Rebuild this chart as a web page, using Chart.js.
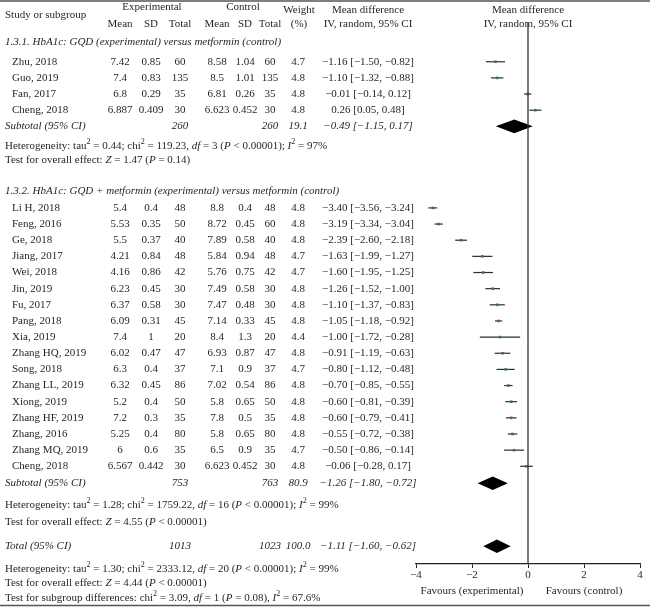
<!DOCTYPE html>
<html>
<head>
<meta charset="utf-8">
<script src="https://cdn.jsdelivr.net/npm/chart.js@4.4.1/dist/chart.umd.min.js"></script>
<style>
  html, body { margin: 0; padding: 0; background: #fff; }
</style>
</head>
<body>
<canvas id="forestChart" width="650" height="611"></canvas>
<script>
// study data, both subgroups in order
var studies = ["Zhu, 2018", "Guo, 2019", "Fan, 2017", "Cheng, 2018",
  "Li H, 2018", "Feng, 2016", "Ge, 2018", "Jiang, 2017", "Wei, 2018", "Jin, 2019", "Fu, 2017",
  "Pang, 2018", "Xia, 2019", "Zhang HQ, 2019", "Song, 2018", "Zhang LL, 2019", "Xiong, 2019",
  "Zhang HF, 2019", "Zhang, 2016", "Zhang MQ, 2019", "Cheng, 2018"];
var groupOf  = [0, 0, 0, 0, 1, 1, 1, 1, 1, 1, 1, 1, 1, 1, 1, 1, 1, 1, 1, 1, 1];
var meanExp  = ["7.42", "7.4", "6.8", "6.887", "5.4", "5.53", "5.5", "4.21", "4.16", "6.23", "6.37", "6.09", "7.4", "6.02", "6.3", "6.32", "5.2", "7.2", "5.25", "6", "6.567"];
var sdExp    = ["0.85", "0.83", "0.29", "0.409", "0.4", "0.35", "0.37", "0.84", "0.86", "0.45", "0.58", "0.31", "1", "0.47", "0.4", "0.45", "0.4", "0.3", "0.4", "0.6", "0.442"];
var nExp     = [60, 135, 35, 30, 48, 50, 40, 48, 42, 30, 30, 45, 20, 47, 37, 86, 50, 35, 80, 35, 30];
var meanCtl  = ["8.58", "8.5", "6.81", "6.623", "8.8", "8.72", "7.89", "5.84", "5.76", "7.49", "7.47", "7.14", "8.4", "6.93", "7.1", "7.02", "5.8", "7.8", "5.8", "6.5", "6.623"];
var sdCtl    = ["1.04", "1.01", "0.26", "0.452", "0.4", "0.45", "0.58", "0.94", "0.75", "0.58", "0.48", "0.33", "1.3", "0.87", "0.9", "0.54", "0.65", "0.5", "0.65", "0.9", "0.452"];
var nCtl     = [60, 135, 35, 30, 48, 60, 40, 48, 42, 30, 30, 45, 20, 47, 37, 86, 50, 35, 80, 35, 30];
var weights  = [4.7, 4.8, 4.8, 4.8, 4.8, 4.8, 4.8, 4.7, 4.7, 4.8, 4.8, 4.8, 4.4, 4.8, 4.7, 4.8, 4.8, 4.8, 4.8, 4.7, 4.8];
var md       = [-1.16, -1.10, -0.01, 0.26, -3.40, -3.19, -2.39, -1.63, -1.60, -1.26, -1.10, -1.05, -1.00, -0.91, -0.80, -0.70, -0.60, -0.60, -0.55, -0.50, -0.06];
var ciLow    = [-1.50, -1.32, -0.14, 0.05, -3.56, -3.34, -2.60, -1.99, -1.95, -1.52, -1.37, -1.18, -1.72, -1.19, -1.12, -0.85, -0.81, -0.79, -0.72, -0.86, -0.28];
var ciHigh   = [-0.82, -0.88, 0.12, 0.48, -3.24, -3.04, -2.18, -1.27, -1.25, -1.00, -0.83, -0.92, -0.28, -0.63, -0.48, -0.55, -0.39, -0.41, -0.38, -0.14, 0.17];

// subgroup and overall pooled results
var groupTitles = ["1.3.1. HbA1c: GQD (experimental) versus metformin (control)",
  "1.3.2. HbA1c: GQD + metformin (experimental) versus metformin (control)"];
var subNExp   = [260, 753];
var subNCtl   = [260, 763];
var subWeight = [19.1, 80.9];
var subMd     = [-0.49, -1.26];
var subLow    = [-1.15, -1.80];
var subHigh   = [0.17, -0.72];
var totalN    = [1013, 1023];
var totalMd   = [-1.11, -1.60, -0.62];
var xTicks    = [-4, -2, 0, 2, 4];

var hetLines = [
  [["Heterogeneity: tau", "n"], ["2", "s"], [" = 0.44; chi", "n"], ["2", "s"], [" = 119.23, ", "n"], ["df", "i"], [" = 3 (", "n"], ["P", "i"], [" < 0.00001); ", "n"], ["I", "i"], ["2", "s"], [" = 97%", "n"]],
  [["Heterogeneity: tau", "n"], ["2", "s"], [" = 1.28; chi", "n"], ["2", "s"], [" = 1759.22, ", "n"], ["df", "i"], [" = 16 (", "n"], ["P", "i"], [" < 0.00001); ", "n"], ["I", "i"], ["2", "s"], [" = 99%", "n"]]
];
var effectLines = [
  [["Test for overall effect: ", "n"], ["Z", "i"], [" = 1.47 (", "n"], ["P", "i"], [" = 0.14)", "n"]],
  [["Test for overall effect: ", "n"], ["Z", "i"], [" = 4.55 (", "n"], ["P", "i"], [" < 0.00001)", "n"]]
];
var totalLines = [
  [["Heterogeneity: tau", "n"], ["2", "s"], [" = 1.30; chi", "n"], ["2", "s"], [" = 2333.12, ", "n"], ["df", "i"], [" = 20 (", "n"], ["P", "i"], [" < 0.00001); ", "n"], ["I", "i"], ["2", "s"], [" = 99%", "n"]],
  [["Test for overall effect: ", "n"], ["Z", "i"], [" = 4.44 (", "n"], ["P", "i"], [" < 0.00001)", "n"]],
  [["Test for subgroup differences: chi", "n"], ["2", "s"], [" = 3.09, ", "n"], ["df", "i"], [" = 1 (", "n"], ["P", "i"], [" = 0.08), ", "n"], ["I", "i"], ["2", "s"], [" = 67.6%", "n"]]
];

// row layout (in row units)
var yMax = 33.5;
var groupFirstRow = [2.4, 11.45];
var titleRow = [1.2, 10.4];
var subtotalRow = [6.4, 28.5];
var hetRow = [7.6, 29.85];
var effectRow = [8.5, 30.9];
var totalRow = 32.4;
var totalLineRows = [33.8, 34.7, 35.6];

var rowOf = [];
var counter = [0, 0];
for (var i = 0; i < studies.length; i++) {
  var g = groupOf[i];
  rowOf.push(groupFirstRow[g] + counter[g]);
  counter[g]++;
}

var FONT = "'Liberation Serif', 'DejaVu Serif', serif";
var INK = "#231f20";
var col = { name: 12, meanE: 120, sdE: 151, nE: 180, meanC: 217, sdC: 245, nC: 270, w: 298, ci: 368 };

function fmt(v) {
  return (v < 0 ? "\u2212" : "") + Math.abs(v).toFixed(2);
}
function ciText(m, lo, hi) {
  return fmt(m) + " [" + fmt(lo) + ", " + fmt(hi) + "]";
}

function drawRich(ctx, segs, x, y) {
  ctx.textAlign = "left";
  segs.forEach(function (s) {
    if (s[1] === "s") {
      ctx.font = "8px " + FONT;
      ctx.fillText(s[0], x, y - 4);
    } else {
      ctx.font = (s[1] === "i" ? "italic " : "") + "11px " + FONT;
      ctx.fillText(s[0], x, y);
    }
    x += ctx.measureText(s[0]).width;
  });
}

var forestPlugin = {
  id: "forest",
  beforeDatasetsDraw: function (chart) {
    var ctx = chart.ctx, xs = chart.scales.x, ys = chart.scales.y;
    ctx.save();
    // confidence intervals
    ctx.strokeStyle = "#2b2b2b";
    ctx.lineWidth = 1.2;
    for (var i = 0; i < studies.length; i++) {
      var py = ys.getPixelForValue(rowOf[i]);
      ctx.beginPath();
      ctx.moveTo(xs.getPixelForValue(ciLow[i]), py);
      ctx.lineTo(xs.getPixelForValue(ciHigh[i]), py);
      ctx.stroke();
    }
    // pooled diamonds
    function diamond(m, lo, hi, row) {
      ctx.beginPath();
      ctx.moveTo(xs.getPixelForValue(lo), ys.getPixelForValue(row));
      ctx.lineTo(xs.getPixelForValue(m), ys.getPixelForValue(row - 0.42));
      ctx.lineTo(xs.getPixelForValue(hi), ys.getPixelForValue(row));
      ctx.lineTo(xs.getPixelForValue(m), ys.getPixelForValue(row + 0.42));
      ctx.closePath();
      ctx.fillStyle = "#000";
      ctx.fill();
    }
    for (var g = 0; g < 2; g++) diamond(subMd[g], subLow[g], subHigh[g], subtotalRow[g]);
    diamond(totalMd[0], totalMd[1], totalMd[2], totalRow);
    ctx.restore();
  },
  afterDraw: function (chart) {
    var ctx = chart.ctx, xs = chart.scales.x, ys = chart.scales.y;
    var W = chart.width;
    ctx.save();
    ctx.fillStyle = INK;
    ctx.textBaseline = "middle";

    // rules
    ctx.strokeStyle = "#555";
    ctx.lineWidth = 1.5;
    ctx.beginPath();
    ctx.moveTo(0, 1); ctx.lineTo(W, 1);
    ctx.moveTo(0, 605.5); ctx.lineTo(W, 605.5);
    ctx.stroke();

    function txt(s, x, row, align, italic) {
      ctx.font = (italic ? "italic " : "") + "11px " + FONT;
      ctx.textAlign = align;
      ctx.fillText(s, x, ys.getPixelForValue(row));
    }

    // header
    txt("Study or subgroup", 5, -0.5, "left");
    txt("Experimental", 152, -0.98, "center");
    txt("Control", 243, -0.98, "center");
    txt("Weight", 299, -0.78, "center");
    txt("(%)", 299, 0.05, "center");
    txt("Mean difference", col.ci, -0.78, "center");
    txt("IV, random, 95% CI", col.ci, 0.05, "center");
    txt("Mean difference", xs.getPixelForValue(0), -0.78, "center");
    txt("IV, random, 95% CI", xs.getPixelForValue(0), 0.05, "center");
    [["Mean", col.meanE], ["SD", col.sdE], ["Total", col.nE], ["Mean", col.meanC], ["SD", col.sdC], ["Total", col.nC]].forEach(function (h) {
      txt(h[0], h[1], 0.05, "center");
    });

    // study rows
    for (var i = 0; i < studies.length; i++) {
      var r = rowOf[i];
      txt(studies[i], col.name, r, "left");
      txt(meanExp[i], col.meanE, r, "center");
      txt(sdExp[i], col.sdE, r, "center");
      txt(String(nExp[i]), col.nE, r, "center");
      txt(meanCtl[i], col.meanC, r, "center");
      txt(sdCtl[i], col.sdC, r, "center");
      txt(String(nCtl[i]), col.nC, r, "center");
      txt(weights[i].toFixed(1), col.w, r, "center");
      txt(ciText(md[i], ciLow[i], ciHigh[i]), col.ci, r, "center");
    }

    // subgroup titles, subtotals and stats
    for (var g = 0; g < 2; g++) {
      txt(groupTitles[g], 5, titleRow[g], "left", true);
      var sr = subtotalRow[g];
      txt("Subtotal (95% CI)", 5, sr, "left", true);
      txt(String(subNExp[g]), col.nE, sr, "center", true);
      txt(String(subNCtl[g]), col.nC, sr, "center", true);
      txt(subWeight[g].toFixed(1), col.w, sr, "center", true);
      txt(ciText(subMd[g], subLow[g], subHigh[g]), col.ci, sr, "center", true);
      drawRich(ctx, hetLines[g], 5, ys.getPixelForValue(hetRow[g]));
      drawRich(ctx, effectLines[g], 5, ys.getPixelForValue(effectRow[g]));
    }

    // total
    txt("Total (95% CI)", 5, totalRow, "left", true);
    txt(String(totalN[0]), col.nE, totalRow, "center", true);
    txt(String(totalN[1]), col.nC, totalRow, "center", true);
    txt("100.0", col.w, totalRow, "center", true);
    txt(ciText(totalMd[0], totalMd[1], totalMd[2]), col.ci, totalRow, "center", true);
    for (var k = 0; k < totalLines.length; k++) {
      drawRich(ctx, totalLines[k], 5, ys.getPixelForValue(totalLineRows[k]));
    }

    // favours labels
    ctx.font = "11px " + FONT;
    ctx.textAlign = "center";
    ctx.fillText("Favours (experimental)", xs.getPixelForValue(-2), 591);
    ctx.fillText("Favours (control)", xs.getPixelForValue(2), 591);
    ctx.restore();
  }
};

var ctx = document.getElementById("forestChart").getContext("2d");
var forestChart = new Chart(ctx, {
  type: "scatter",
  data: {
    datasets: [
      {
        label: "zero",
        type: "line",
        data: [{ x: 0, y: 0 }, { x: 0, y: yMax }],
        borderColor: "#333",
        borderWidth: 1.3,
        pointRadius: 0
      },
      {
        label: "studies",
        data: studies.map(function (s, i) { return { x: md[i], y: rowOf[i] }; }),
        pointStyle: "rect",
        pointRadius: 1.8,
        backgroundColor: "#2f7d3a",
        borderColor: "#2f7d3a",
        borderWidth: 0
      }
    ]
  },
  options: {
    responsive: false,
    animation: false,
    layout: { padding: { left: 416, right: 10, top: 23, bottom: 0 } },
    plugins: { legend: { display: false }, tooltip: { enabled: false } },
    scales: {
      x: {
        type: "linear",
        min: -4,
        max: 4,
        afterBuildTicks: function (scale) {
          scale.ticks = xTicks.map(function (v) { return { value: v }; });
        },
        ticks: {
          color: INK,
          padding: 1,
          font: { family: FONT, size: 11 },
          callback: function (v) { return String(v).replace("-", "\u2212"); }
        },
        grid: { drawOnChartArea: false, drawTicks: true, tickLength: 4, color: "#222" },
        border: { color: "#222", width: 1.3 },
        afterFit: function (scale) { scale.height = 47; }
      },
      y: { type: "linear", display: false, reverse: true, min: 0, max: yMax }
    }
  },
  plugins: [forestPlugin]
});
</script>
</body>
</html>
